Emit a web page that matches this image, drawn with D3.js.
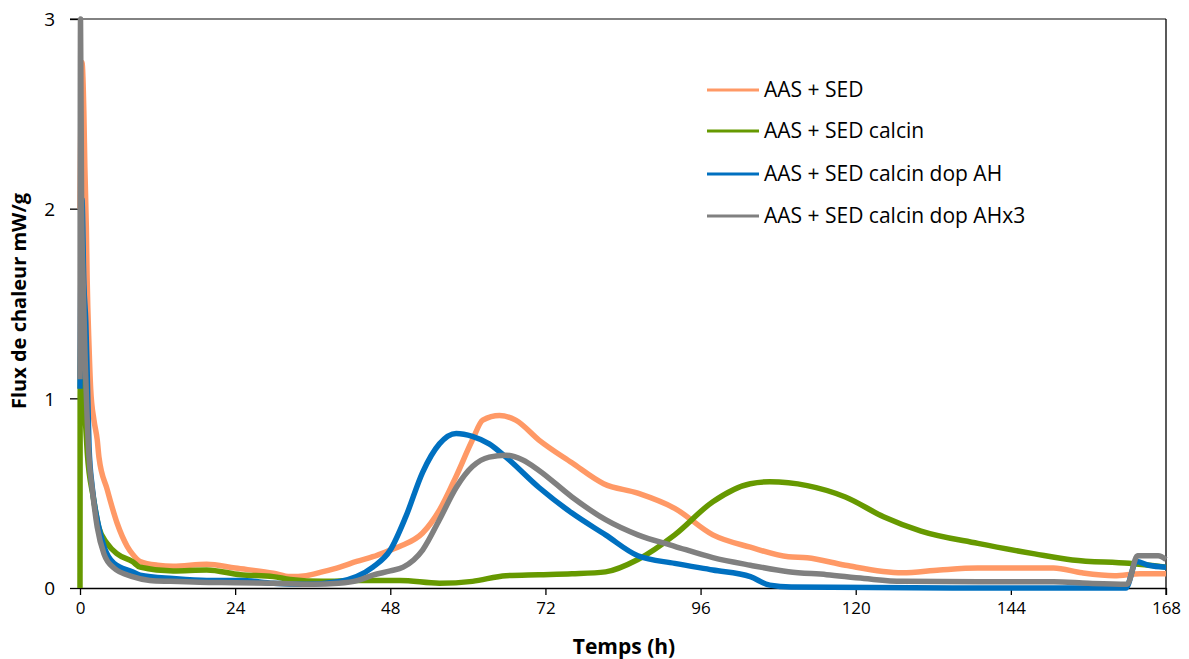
<!DOCTYPE html>
<html>
<head>
<meta charset="utf-8">
<script src="https://cdn.jsdelivr.net/npm/d3@7"></script>
<style>
  html, body { margin: 0; padding: 0; background: #fff; }
  svg { display: block; }
  text { font-family: "Open Sans", Lato, sans-serif; fill: #000; }
</style>
</head>
<body>
<svg id="chart" width="1189" height="659"></svg>
<script>
// ---- data ----
const seriesNames = ["AAS + SED", "AAS + SED calcin", "AAS + SED calcin dop AH", "AAS + SED calcin dop AHx3"];
const seriesColors = ["#FF9966", "#669900", "#0070C0", "#808080"];
const xTicks = [0, 24, 48, 72, 96, 120, 144, 168];
const yTicks = [0, 1, 2, 3];

const hoursSED = [0,0.3,0.6,0.75,0.98,1.1,1.4,1.65,2.16,2.67,2.93,4.2,5.76,7.3,8.1,9.3,12,14.4,19.6,24,29.9,32.5,35,37.6,40.2,42.8,45.3,48,49.5,53,55.6,58.2,60.7,62.3,64.9,67.4,71,76.1,81,86.3,92,97.9,103.7,109.6,112.5,118.4,127.2,133,138.9,150.6,155,160,164,168];
const fluxSED  = [2.0,2.77,2.5,2.22,1.9,1.64,1.27,1.05,0.885,0.78,0.69,0.52,0.34,0.22,0.18,0.14,0.12,0.115,0.125,0.105,0.078,0.06,0.065,0.086,0.11,0.14,0.165,0.2,0.22,0.29,0.41,0.59,0.78,0.885,0.91,0.885,0.78,0.66,0.55,0.5,0.42,0.28,0.215,0.165,0.16,0.12,0.08,0.095,0.105,0.105,0.08,0.065,0.075,0.075];

const hoursCalcin = [0,0.02,0.3,0.5,0.8,1.13,2.05,2.9,4.2,5.76,8.1,9.3,14.4,19.6,24.8,29.9,32.5,37.6,42.8,49.5,55.6,60.7,65.9,71,76.1,81.3,86.3,92,97.9,103.7,106.7,112.5,118.4,124.3,130.1,138.9,147.7,153.5,162.3,168];
const fluxCalcin  = [0,1.0,1.52,1.1,0.9,0.71,0.48,0.32,0.235,0.18,0.14,0.11,0.09,0.095,0.07,0.06,0.045,0.035,0.04,0.04,0.025,0.035,0.065,0.07,0.075,0.085,0.15,0.28,0.455,0.55,0.56,0.54,0.48,0.376,0.3,0.235,0.18,0.148,0.13,0.11];

const hoursAH = [0,0.3,0.6,0.9,1.1,1.4,1.9,2.67,3.7,5.25,8.1,9.3,14.4,19.6,24.8,29.9,35,40.2,42.8,45.3,48,50.4,53,55.6,58.2,60.7,63.3,65.9,71,76.1,81.3,86.3,92,97.9,103.7,106.7,110,135,161.8,163.4,165.3,168];
const fluxAH  = [1.05,2.05,1.6,1.4,1.15,0.745,0.53,0.36,0.22,0.13,0.086,0.068,0.05,0.04,0.04,0.025,0.02,0.035,0.06,0.11,0.2,0.376,0.61,0.76,0.815,0.8,0.76,0.69,0.53,0.395,0.28,0.17,0.13,0.095,0.06,0.015,0.005,0.0,0.0,0.14,0.12,0.11];

const hoursAHx3 = [0,0.08,0.25,0.5,0.8,1.1,1.4,1.9,2.67,3.7,5.25,8.1,10.8,14,18.5,24,30,36,40,43,45.3,48,50,53,55.6,58.2,60.7,63.3,65.9,68.5,71,76.1,81.3,86.3,92,97.9,103.7,109.6,115.5,121.3,127.2,139,150.6,156,162,163.6,166.8,168];
const fluxAHx3  = [1.1,3.0,2.0,1.6,1.2,0.9,0.69,0.52,0.32,0.18,0.105,0.06,0.04,0.035,0.03,0.028,0.025,0.02,0.025,0.04,0.068,0.09,0.11,0.2,0.36,0.53,0.64,0.69,0.7,0.675,0.62,0.48,0.36,0.28,0.22,0.16,0.12,0.086,0.07,0.05,0.035,0.033,0.033,0.025,0.02,0.17,0.17,0.15];

const xTitle = "Temps (h)";
const yTitle = "Flux de chaleur mW/g";

// ---- layout ----
const svg = d3.select("#chart");
const mLeft = 80, mRight = 1166, mTop = 19, mBottom = 588;

const x = d3.scaleLinear().domain([0, 168]).range([mLeft, mRight]);
const y = d3.scaleLinear().domain([0, 3]).range([mBottom, mTop]);

// plot frame (top and right)
svg.append("line").attr("x1", mLeft - 10).attr("x2", mRight).attr("y1", mTop).attr("y2", mTop)
  .attr("stroke", "#595959").attr("stroke-width", 1.3);
svg.append("line").attr("x1", mRight).attr("x2", mRight).attr("y1", mTop).attr("y2", mBottom + 7)
  .attr("stroke", "#000").attr("stroke-width", 1.3);

// axes
const xAxis = d3.axisBottom(x).tickValues(xTicks).tickSize(7).tickSizeOuter(0).tickFormat(d3.format("d"));
const gx = svg.append("g").attr("transform", `translate(0,${mBottom})`).call(xAxis);
gx.select(".domain").attr("stroke", "#000").attr("stroke-width", 1.3);
gx.selectAll(".tick line").attr("stroke", "#000").attr("stroke-width", 1.3);
gx.selectAll(".tick text").attr("font-size", 17).attr("font-family", "'Open Sans', sans-serif").attr("dy", "0.95em");

const yAxis = d3.axisLeft(y).tickValues(yTicks).tickSize(10).tickSizeOuter(0).tickFormat(d3.format("d"));
const gy = svg.append("g").attr("transform", `translate(${mLeft},0)`).call(yAxis);
gy.select(".domain").attr("stroke", "#000").attr("stroke-width", 1.3);
gy.selectAll(".tick line").attr("stroke", "#000").attr("stroke-width", 1.3);
gy.selectAll(".tick text").attr("font-size", 19).attr("font-family", "'Open Sans', sans-serif").attr("x", -25).attr("dy", "0.36em");

// series
const allSeries = [
  { name: seriesNames[0], color: seriesColors[0], h: hoursSED, v: fluxSED },
  { name: seriesNames[1], color: seriesColors[1], h: hoursCalcin, v: fluxCalcin },
  { name: seriesNames[2], color: seriesColors[2], h: hoursAH, v: fluxAH },
  { name: seriesNames[3], color: seriesColors[3], h: hoursAHx3, v: fluxAHx3 }
];

const line = d3.line()
  .x(d => x(d[0]))
  .y(d => y(d[1]))
  .curve(d3.curveMonotoneX);

svg.append("g").selectAll("path")
  .data(allSeries)
  .join("path")
  .attr("d", s => line(s.h.map((hh, i) => [hh, s.v[i]])))
  .attr("fill", "none")
  .attr("stroke", s => s.color)
  .attr("stroke-width", 5.5)
  .attr("stroke-linejoin", "round");

// legend
const legendY = [90, 131, 174, 216];
const lg = svg.append("g");
allSeries.forEach((s, i) => {
  lg.append("line").attr("x1", 707).attr("x2", 759).attr("y1", legendY[i]).attr("y2", legendY[i])
    .attr("stroke", s.color).attr("stroke-width", 3);
  lg.append("text").attr("x", 764).attr("y", legendY[i]).attr("dy", "0.35em")
    .attr("font-size", 21).text(s.name);
});

// axis titles
svg.append("text").attr("x", 624).attr("y", 654).attr("text-anchor", "middle")
  .attr("font-size", 21).attr("font-weight", "bold").text(xTitle);
svg.append("text").attr("transform", "translate(26,301) rotate(-90)").attr("text-anchor", "middle")
  .attr("font-size", 20).attr("font-weight", "bold").text(yTitle);
</script>
</body>
</html>
